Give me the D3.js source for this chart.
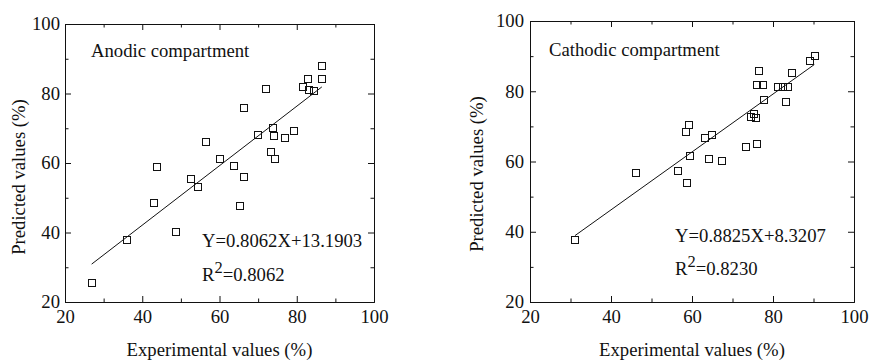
<!DOCTYPE html>
<html>
<head>
<meta charset="utf-8">
<script src="https://cdn.jsdelivr.net/npm/d3@7"></script>
<style>
  body { margin: 0; background: #fff; }
</style>
</head>
<body>
<div id="chart"></div>
<script>
// values
var anodicExp  = [26.8, 35.8, 42.9, 43.7, 48.5, 52.4, 54.4, 56.3, 60.1, 63.6, 65.3, 66.3, 66.3, 69.9,
                  71.9, 73.3, 73.8, 74.0, 74.3, 76.7, 79.1, 81.5, 82.8, 83.1, 84.3, 86.5, 86.5];
var anodicPred = [25.6, 37.9, 48.6, 59.1, 40.4, 55.6, 53.1, 66.2, 61.2, 59.4, 47.8, 56.2, 76.0, 68.2,
                  81.3, 63.3, 70.3, 67.9, 61.2, 67.3, 69.4, 82.0, 84.2, 81.1, 81.0, 88.1, 84.4];
var anodicFit  = [[26.9, 30.9], [86.5, 81.9]];

var cathodicExp  = [31.0, 46.1, 56.5, 58.3, 58.7, 59.1, 59.3, 63.0, 64.0, 64.8, 67.2, 73.3, 74.4, 75.2,
                    75.6, 75.9, 75.9, 76.5, 77.3, 77.7, 81.1, 82.4, 83.0, 83.5, 84.5, 89.1, 90.3];
var cathodicPred = [37.8, 57.0, 57.5, 68.5, 54.1, 70.5, 61.8, 66.7, 60.8, 67.6, 60.3, 64.2, 72.8, 73.8,
                    72.4, 65.2, 82.0, 85.8, 82.0, 77.7, 81.4, 81.4, 77.1, 81.4, 85.3, 88.7, 90.2];
var cathodicFit  = [[31.1, 38.9], [90.2, 87.6]];

var majorTicks = [20, 40, 60, 80, 100];
var minorTicks = [30, 50, 70, 90];
var xTitle = "Experimental values (%)";
var yTitle = "Predicted values (%)";

var FONT = "'Liberation Serif', 'Times New Roman', serif";

var svg = d3.select("#chart").append("svg")
  .attr("width", 870)
  .attr("height", 363);

function label(sel) {
  return sel.style("font-family", FONT).style("font-size", "18.7px").attr("fill", "#111");
}

function drawPanel(o) {
  var x = d3.scaleLinear().domain([20, 100]).range([o.left, o.right]);
  var y = d3.scaleLinear().domain([20, 100]).range([o.bottom, o.top]);
  var g = svg.append("g");

  // frame + inward ticks on all four sides
  function addAxis(axis, tx, ty, vals, size, labels, pad) {
    var a = g.append("g")
      .attr("transform", "translate(" + tx + "," + ty + ")")
      .call(axis.tickValues(vals).tickSizeInner(-size).tickSizeOuter(0)
        .tickPadding(pad || 3).tickFormat(labels ? d3.format("d") : ""));
    a.attr("font-family", null).attr("font-size", null);
    a.selectAll("path, line").attr("stroke", "#111").attr("stroke-width", 1);
    label(a.selectAll("text"));
    return a;
  }
  addAxis(d3.axisBottom(x), 0, o.bottom, majorTicks, 6, true, 8);
  addAxis(d3.axisBottom(x), 0, o.bottom, minorTicks, 3.5, false);
  addAxis(d3.axisLeft(y), o.left, 0, majorTicks, 6, true, o.ypad);
  addAxis(d3.axisLeft(y), o.left, 0, minorTicks, 3.5, false);
  addAxis(d3.axisTop(x), 0, o.top, majorTicks, 6, false);
  addAxis(d3.axisTop(x), 0, o.top, minorTicks, 3.5, false);
  addAxis(d3.axisRight(y), o.right, 0, majorTicks, 6, false);
  addAxis(d3.axisRight(y), o.right, 0, minorTicks, 3.5, false);

  // fitted line
  g.append("path")
    .datum(o.fit)
    .attr("fill", "none")
    .attr("stroke", "#111")
    .attr("stroke-width", 1)
    .attr("d", d3.line().x(function(d) { return x(d[0]); }).y(function(d) { return y(d[1]); }));

  // points
  var pts = o.exp.map(function(v, i) { return [v, o.pred[i]]; });
  g.selectAll(".pt")
    .data(pts)
    .enter().append("rect")
    .attr("class", "pt")
    .attr("x", function(d) { return Math.round(x(d[0]) - 3.5) + 0.5; })
    .attr("y", function(d) { return Math.round(y(d[1]) - 3.5) + 0.5; })
    .attr("width", 7)
    .attr("height", 7)
    .attr("fill", "none")
    .attr("stroke", "#111")
    .attr("stroke-width", 1);

  // titles
  label(g.append("text"))
    .attr("x", (o.left + o.right) / 2)
    .attr("y", 356)
    .attr("text-anchor", "middle")
    .text(xTitle);

  label(g.append("text"))
    .attr("transform", "translate(" + o.ytx + "," + o.yty + ") rotate(-90)")
    .attr("text-anchor", "middle")
    .text(yTitle);

  label(g.append("text"))
    .attr("x", o.labelX)
    .attr("y", o.labelY)
    .text(o.label);

  label(g.append("text"))
    .attr("x", o.eqX)
    .attr("y", o.eqY)
    .text(o.eq);

  var r2 = label(g.append("text"))
    .attr("x", o.eqX)
    .attr("y", o.r2Y);
  r2.append("tspan").text("R");
  r2.append("tspan").attr("dy", -8).style("font-size", "16.5px").text("2");
  r2.append("tspan").attr("dy", 8).text("=" + o.r2);
}

drawPanel({
  left: 65, right: 374, top: 24, bottom: 302, ypad: 5,
  exp: anodicExp, pred: anodicPred, fit: anodicFit,
  label: "Anodic compartment", labelX: 91, labelY: 57,
  eq: "Y=0.8062X+13.1903", r2: "0.8062", eqX: 202, eqY: 247, r2Y: 281,
  ytx: 25, yty: 177
});

drawPanel({
  left: 530, right: 854, top: 21, bottom: 302, ypad: 6,
  exp: cathodicExp, pred: cathodicPred, fit: cathodicFit,
  label: "Cathodic compartment", labelX: 549, labelY: 56,
  eq: "Y=0.8825X+8.3207", r2: "0.8230", eqX: 675, eqY: 242, r2Y: 275,
  ytx: 483, yty: 174
});
</script>
</body>
</html>
